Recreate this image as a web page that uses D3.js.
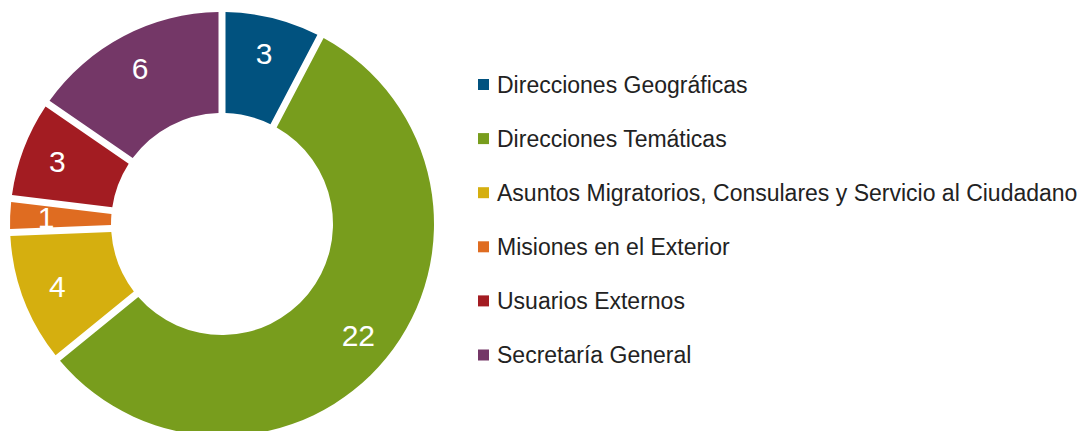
<html>
<head>
    <meta charset="utf-8">
    <script src="https://d3js.org/d3.v7.min.js"></script>
    <style>
        body { margin: 0; background: #fff; }
        .legend text { font-family: "Liberation Sans", Arial, sans-serif; font-size: 23px; fill: #222; }
        .labels text { font-family: "Liberation Sans", Arial, sans-serif; font-size: 30px; fill: #fff; }
    </style>
</head>
<body>
    <svg id="donut" width="1084" height="431"></svg>
    <script>
        const categories = ["Direcciones Geográficas", "Direcciones Temáticas",
            "Asuntos Migratorios, Consulares y Servicio al Ciudadano",
            "Misiones en el Exterior", "Usuarios Externos", "Secretaría General"];
        const values = [3, 22, 4, 1, 3, 6];
        const colors = ["#01527f", "#789d1d", "#d5af0f", "#df6c21", "#a31c22", "#743767"];

        const data = categories.map((c, i) => ({ name: c, value: values[i], color: colors[i] }));

        const svg = d3.select("svg#donut");
        const cx = 222, cy = 224;
        const outerR = 212, innerR = 111;

        const pie = d3.pie().value(d => d.value).sort(null);
        const arc = d3.arc().innerRadius(innerR).outerRadius(outerR)
            .padAngle(7 / outerR).padRadius(outerR);
        const labelArc = d3.arc().innerRadius(176).outerRadius(176);

        const chart = svg.append("g").attr("transform", `translate(${cx},${cy})`);

        chart.selectAll("path").data(pie(data))
            .join("path")
            .attr("d", arc)
            .attr("fill", d => d.data.color);

        chart.append("g").attr("class", "labels")
            .selectAll("text").data(pie(data))
            .join("text")
            .attr("transform", d => `translate(${labelArc.centroid(d)})`)
            .attr("text-anchor", "middle")
            .attr("dy", "0.36em")
            .text(d => d.data.value);

        const legendY = d3.scalePoint().domain(categories).range([84.5, 355]);

        const legend = svg.append("g").attr("class", "legend")
            .selectAll("g").data(data)
            .join("g")
            .attr("transform", d => `translate(478,${legendY(d.name)})`);

        legend.append("rect")
            .attr("x", 0).attr("y", -5.5)
            .attr("width", 11).attr("height", 11)
            .attr("fill", d => d.color);

        legend.append("text")
            .attr("x", 19)
            .attr("dy", "0.36em")
            .text(d => d.name);
    </script>
</body>
</html>
